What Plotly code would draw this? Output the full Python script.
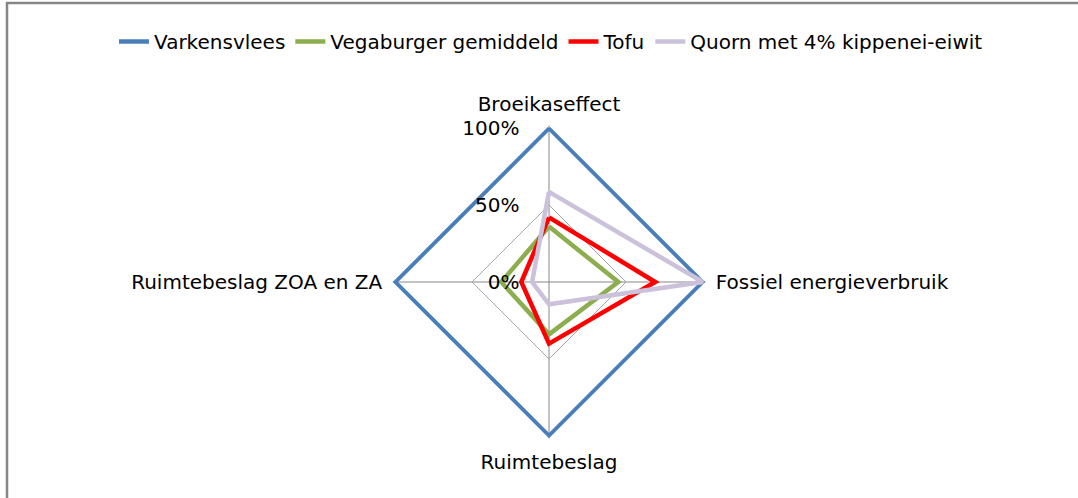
import plotly.graph_objects as go

categories = ["Broeikaseffect", "Fossiel energieverbruik", "Ruimtebeslag", "Ruimtebeslag ZOA en ZA"]
series_names = ["Varkensvlees", "Vegaburger gemiddeld", "Tofu", "Quorn met 4% kippenei-eiwit"]
varkensvlees = [1.00, 1.00, 1.00, 1.00]
vegaburger = [0.36, 0.45, 0.34, 0.31]
tofu = [0.42, 0.69, 0.40, 0.18]
quorn = [0.585, 1.00, 0.145, 0.11]
colors = ["#4A7EBB", "#8CAE4E", "#FF0000", "#CCC1DA"]
tick_vals = [0, 0.5, 1.0]
tick_text = ["0%", "50%", "100%"]

W, H = 1078, 498
RMAX = 1.015
cx, cy, R = 549, 282, 154 * RMAX

fig = go.Figure()
for name, vals, col in zip(series_names, [varkensvlees, vegaburger, tofu, quorn], colors):
    fig.add_trace(go.Scatterpolar(
        r=vals + vals[:1],
        theta=categories + categories[:1],
        mode="lines",
        name=name,
        cliponaxis=False,
        line=dict(color=col, width=4.5),
    ))

font = dict(family="DejaVu Sans, Open Sans, sans-serif", size=20, color="#000000")

fig.update_layout(
    width=W, height=H,
    margin=dict(l=0, r=0, t=0, b=0),
    paper_bgcolor="white",
    plot_bgcolor="white",
    font=font,
    showlegend=True,
    legend=dict(orientation="h", x=551 / W, xanchor="center", y=1 - 22 / H, yanchor="top",
                font=font, bgcolor="rgba(0,0,0,0)"),
    polar=dict(
        domain=dict(x=[(cx - R) / W, (cx + R) / W], y=[(H - cy - R) / H, (H - cy + R) / H]),
        bgcolor="white",
        gridshape="linear",
        radialaxis=dict(
            range=[0, RMAX], tickvals=tick_vals, ticktext=tick_text,
            angle=90, side="counterclockwise", showline=False,
            ticks="outside", ticklen=22, tickcolor="rgba(0,0,0,0)",
            gridcolor="#A6A6A6", gridwidth=1, tickfont=font, tickangle=90,
        ),
        angularaxis=dict(
            direction="clockwise", rotation=90, showline=False,
            ticks="outside", ticklen=6, tickcolor="rgba(0,0,0,0)",
            gridcolor="#868686", gridwidth=1, tickfont=font,
        ),
    ),
    shapes=[dict(type="rect", xref="paper", yref="paper",
                 x0=7 / W, x1=1085 / W, y0=-0.1, y1=1 - 3 / H,
                 line=dict(color="#868686", width=2.5), fillcolor="rgba(0,0,0,0)")],
)

fig.write_html("out.html", config={"displayModeBar": False},
               post_script="document.body.style.margin='0';")
